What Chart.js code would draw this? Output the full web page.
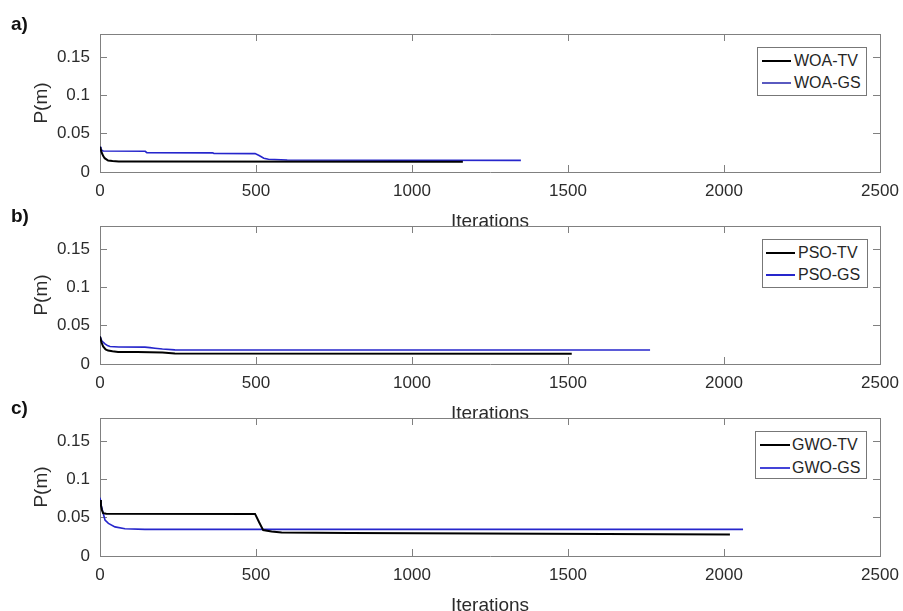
<!DOCTYPE html>
<html><head><meta charset="utf-8">
<script src="https://cdn.jsdelivr.net/npm/chart.js@4"></script>
<style>
body{margin:0;background:#fff;}
#wrap{position:relative;width:903px;height:611px;overflow:hidden;background:#fff;font-family:'Liberation Sans',Arial,sans-serif;}
.panel{position:absolute;left:0;width:903px;height:240px;}
.lab{position:absolute;left:11px;font-weight:bold;font-size:19px;color:#111;line-height:1;}
.leg{position:absolute;border:1px solid #777;background:#fff;box-sizing:border-box;}
.row{position:absolute;left:0;height:20px;display:flex;align-items:center;font-size:16px;color:#262626;white-space:nowrap;}
.sw{display:inline-block;height:0;border-top:2px solid #000;}
</style></head>
<body>
<div id="wrap">
  <canvas id="ca" class="panel" width="903" height="240" style="top:0px"></canvas>
  <canvas id="cb" class="panel" width="903" height="240" style="top:192px"></canvas>
  <canvas id="cc" class="panel" width="903" height="240" style="top:384px"></canvas>
  <div class="lab" style="top:14px">a)</div>
  <div class="lab" style="top:206px">b)</div>
  <div class="lab" style="top:398px">c)</div>
  <div id="lega" class="leg" style="left:757px;top:47px;width:110px;height:49px"></div>
  <div id="legb" class="leg" style="left:762px;top:239px;width:106px;height:49px"></div>
  <div id="legc" class="leg" style="left:755px;top:431px;width:112px;height:48px"></div>
</div>
<script>
const xTicks=[0,500,1000,1500,2000,2500];
const xTickLabels=['0','500','1000','1500','2000','2500'];
const yTicks=[0,0.05,0.1,0.15];
const yTickLabels=['0','0.05','0.1','0.15'];

// a) WOA
const woaTvIter=[0,5,10,15,26,40,60,100,1163];
const woaTvVal=[0.033,0.026,0.021,0.018,0.0150,0.0142,0.0138,0.0136,0.0135];
const woaGsIter=[0,3,10,145,150,360,365,497,510,525,540,600,1349];
const woaGsVal=[0.033,0.029,0.0274,0.0270,0.0252,0.0250,0.0243,0.0240,0.0215,0.018,0.0166,0.0157,0.0152];

// b) PSO
const psoTvIter=[0,5,10,18,26,40,58,120,200,220,240,1512];
const psoTvVal=[0.036,0.028,0.0228,0.019,0.0175,0.0165,0.0158,0.0155,0.0150,0.0145,0.0138,0.0133];
const psoGsIter=[0,6,16,24,32,60,144,160,176,200,240,1763];
const psoGsVal=[0.036,0.030,0.0263,0.0240,0.0228,0.0222,0.0220,0.0214,0.0206,0.0195,0.0184,0.0182];

// c) GWO
const gwoTvIter=[0,3,6,10,20,497,510,523,550,582,800,1218,2019];
const gwoTvVal=[0.073,0.066,0.060,0.0558,0.0550,0.0549,0.044,0.0338,0.0320,0.0305,0.0300,0.0294,0.0281];
const gwoGsIter=[0,4,10,16,27,48,80,144,600,2061];
const gwoGsVal=[0.076,0.066,0.056,0.047,0.0426,0.038,0.0355,0.0347,0.0347,0.0347];

const BLACK='#000000', BLUE='#2626cc';
Chart.defaults.font.family="'Liberation Sans', Arial, Helvetica, sans-serif";
const gridCol='#808080', txt='#2b2b2b';

function ds(label,iter,val,color,w){
  return {label,data:iter.map((x,i)=>({x,y:val[i]})),borderColor:color,backgroundColor:color,
    borderWidth:w,pointRadius:0,tension:0,fill:false,xAxisID:'x',yAxisID:'y'};
}
function noPad(s){s.paddingLeft=0;s.paddingRight=0;s.paddingTop=0;s.paddingBottom=0;}
function edgeAxis(pos,min,max,ticks){
  const horiz=(pos==='top');
  return {type:'linear',position:pos,min,max,
    afterBuildTicks:s=>{s.ticks=ticks.map(v=>({value:v}));},
    afterFit:s=>{ if(horiz) s.height=0; else s.width=0; noPad(s); },
    ticks:{display:false},
    grid:{drawOnChartArea:false,drawTicks:true,tickLength:-7,color:gridCol},
    border:{display:true,color:gridCol,width:1}};
}
function makeChart(id,sets){
  new Chart(document.getElementById(id),{
    type:'line',
    data:{datasets:sets},
    options:{
      responsive:false,animation:false,devicePixelRatio:1,
      layout:{padding:{left:20,top:34,right:23,bottom:0}},
      plugins:{legend:{display:false},tooltip:{enabled:false}},
      scales:{
        x:{type:'linear',position:'bottom',min:0,max:2500,
          afterBuildTicks:s=>{s.ticks=xTicks.map(v=>({value:v}));},
          afterFit:s=>{s.height=68;noPad(s);},
          ticks:{callback:(v,i)=>xTickLabels[i],padding:16,color:txt,font:{size:17},maxRotation:0,autoSkip:false},
          grid:{drawOnChartArea:false,drawTicks:true,tickLength:-7,color:gridCol},
          border:{display:true,color:gridCol,width:1},
          title:{display:true,text:'Iterations',font:{size:19},color:txt,padding:{top:0,bottom:7}}},
        x2:edgeAxis('top',0,2500,xTicks),
        y:{type:'linear',position:'left',min:0,max:0.18,
          afterBuildTicks:s=>{s.ticks=yTicks.map(v=>({value:v}));},
          afterFit:s=>{s.width=80;noPad(s);},
          ticks:{callback:(v,i)=>yTickLabels[i],padding:17,color:txt,font:{size:17}},
          grid:{drawOnChartArea:false,drawTicks:true,tickLength:-7,color:gridCol},
          border:{display:true,color:gridCol,width:1},
          title:{display:true,text:'P(m)',font:{size:19},color:txt,padding:{top:10.6,bottom:0}}},
        y2:edgeAxis('right',0,0.18,yTicks)
      }
    }
  });
}
makeChart('ca',[ds('WOA-TV',woaTvIter,woaTvVal,BLACK,2),ds('WOA-GS',woaGsIter,woaGsVal,BLUE,1.6)]);
makeChart('cb',[ds('PSO-TV',psoTvIter,psoTvVal,BLACK,2),ds('PSO-GS',psoGsIter,psoGsVal,BLUE,1.6)]);
makeChart('cc',[ds('GWO-TV',gwoTvIter,gwoTvVal,BLACK,2),ds('GWO-GS',gwoGsIter,gwoGsVal,BLUE,1.6)]);

function legend(id,items,swLeft,swW,gap,rowTops){
  const box=document.getElementById(id);
  items.forEach((it,k)=>{
    const r=document.createElement('div');r.className='row';r.style.top=rowTops[k]+'px';
    const sw=document.createElement('span');sw.className='sw';
    sw.style.width=swW+'px';sw.style.marginLeft=swLeft+'px';sw.style.marginRight=gap+'px';
    sw.style.borderTopColor=it[1];
    const t=document.createElement('span');t.textContent=it[0];
    r.appendChild(sw);r.appendChild(t);box.appendChild(r);
  });
}
legend('lega',[['WOA-TV',BLACK],['WOA-GS','#5a5ac0']],4,29,3,[3,25]);
legend('legb',[['PSO-TV',BLACK],['PSO-GS',BLUE]],3,29,3,[3,25]);
legend('legc',[['GWO-TV',BLACK],['GWO-GS','#4444d8']],4,30,2,[3,26]);
</script>
</body></html>
